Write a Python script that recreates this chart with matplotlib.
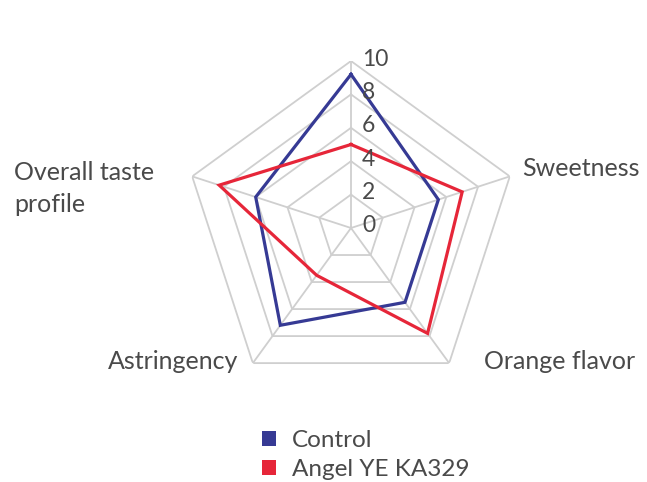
import numpy as np
import matplotlib
matplotlib.use("Agg")
import matplotlib.pyplot as plt
from matplotlib.patches import Patch

plt.rcParams['font.family'] = ['Lato', 'DejaVu Sans']
plt.rcParams['font.weight'] = 'normal'

# Sensory attributes (clockwise from the top) and panel scores
categories = ["Acidity", "Sweetness", "Orange flavor", "Astringency", "Overall taste\nprofile"]
control = [9.2, 5.5, 5.5, 7.2, 6.0]
angel = [5.0, 7.0, 7.8, 3.5, 8.3]
series_names = ["Control", "Angel YE KA329"]
tick_values = [0, 2, 4, 6, 8, 10]

BLUE = "#363a94"
RED = "#e62639"
GRID = "#cfcfcf"
TEXT = "#4a4a4a"

W, H = 647, 482
fig = plt.figure(figsize=(W / 100, H / 100), dpi=100)

cx, cy, R = 351, 228, 167
ax = fig.add_axes([(cx - R) / W, (H - cy - R) / H, 2 * R / W, 2 * R / H],
                  projection="polar")
ax.set_theta_offset(np.pi / 2)
ax.set_theta_direction(-1)
ax.set_ylim(0, 10)
ax.grid(False)
ax.spines["polar"].set_visible(False)
ax.set_xticks([])
ax.set_yticks([])
ax.patch.set_alpha(0)

n = len(categories)
angles = np.linspace(0, 2 * np.pi, n, endpoint=False)
closed = np.append(angles, angles[0])

# pentagonal grid and spokes
for lvl in tick_values[1:]:
    ax.plot(closed, [lvl] * (n + 1), color=GRID, lw=1.3, zorder=1)
for a in angles:
    ax.plot([a, a], [0, 10], color=GRID, lw=1.3, zorder=1)

# data polygons
for vals, col in ((control, BLUE), (angel, RED)):
    ax.plot(closed, list(vals) + [vals[0]], color=col, lw=2.3, zorder=3,
            solid_joinstyle="miter")

# radial tick labels along the top spoke
for v in tick_values:
    ax.annotate(str(v), xy=(0, v), xytext=(11, 2), textcoords="offset pixels",
                ha="left", va="center", fontsize=16.5, color=TEXT, zorder=4)

# category labels
label_pos = [
    ((0, 12.15), (0, 0), "center", "center", 1.2),
    ((angles[1], 10), (12, 8), "left", "center", 1.2),
    ((angles[2], 10), (35, 2), "left", "center", 1.2),
    ((angles[3], 10), (-15, 2), "right", "center", 1.2),
    ((angles[4], 10), (-38, -12), "right", "center", 1.5),
]
for cat, (xy, off, ha, va, ls) in zip(categories, label_pos):
    ax.annotate(cat, xy=xy, xytext=off, textcoords="offset pixels",
                ha=ha, va=va, ma="left", fontsize=18, color=TEXT,
                linespacing=ls)

handles = [Patch(facecolor=BLUE, edgecolor="none"),
           Patch(facecolor=RED, edgecolor="none")]
leg = fig.legend(handles, series_names, loc="upper left",
                 bbox_to_anchor=(262 / W, 1 - 430 / H),
                 bbox_transform=fig.transFigure, frameon=False,
                 fontsize=17.5, handlelength=0.58, handleheight=0.58,
                 handletextpad=0.65, labelspacing=0.32, borderpad=0,
                 borderaxespad=0)
for t in leg.get_texts():
    t.set_color(TEXT)

fig.savefig("out.png", dpi=100)
